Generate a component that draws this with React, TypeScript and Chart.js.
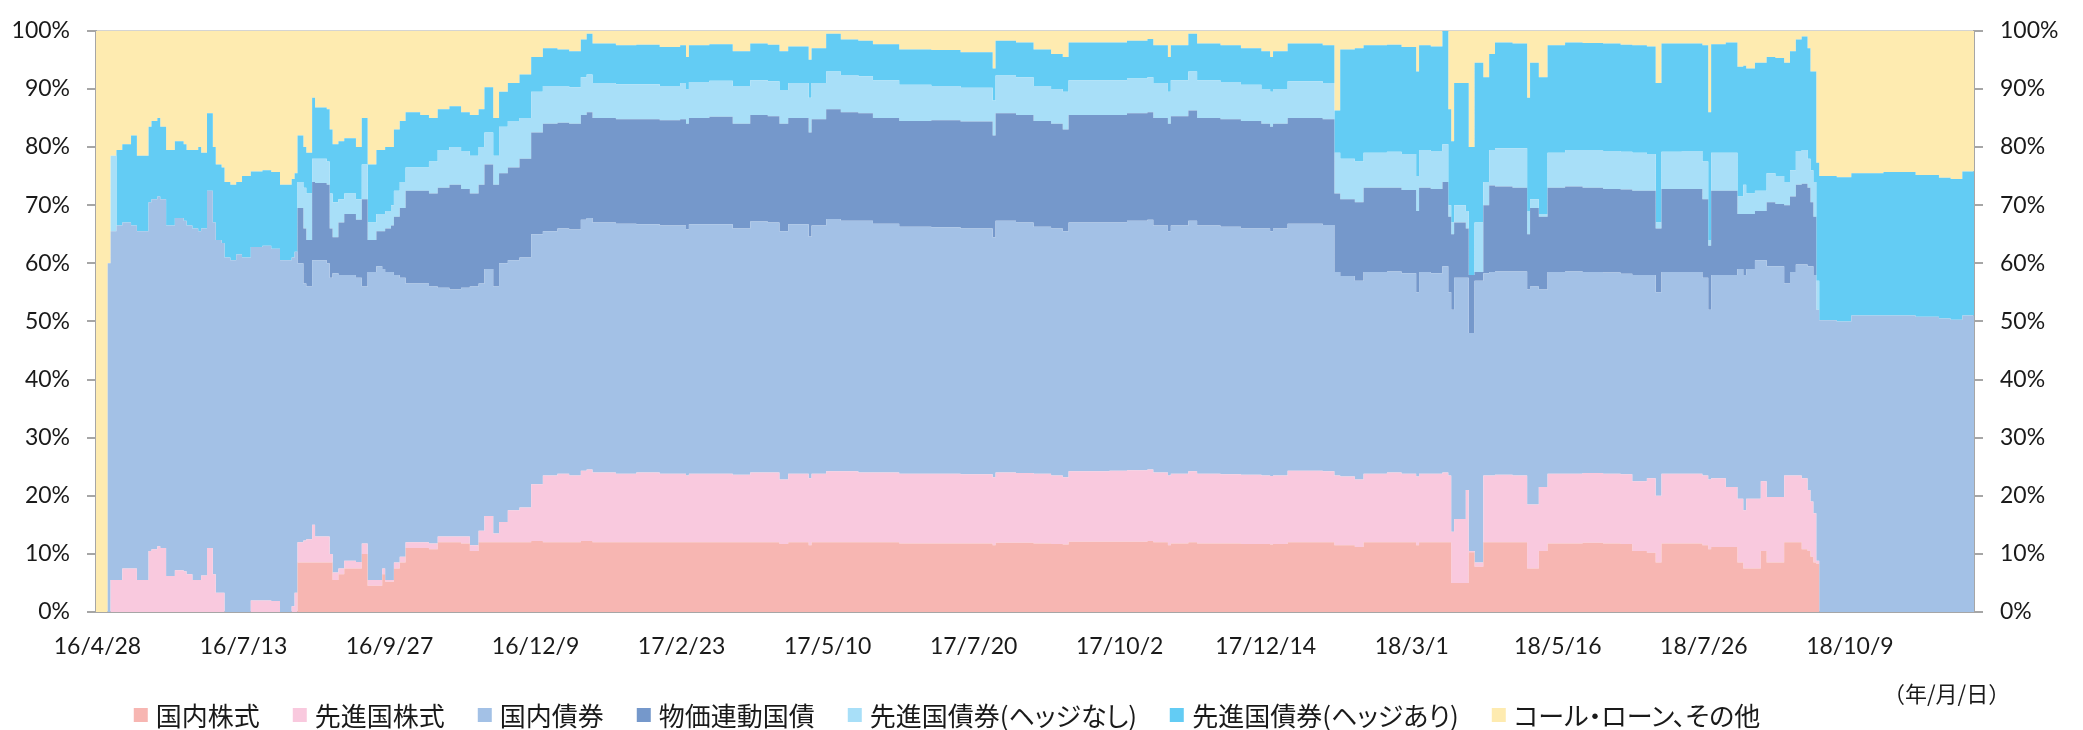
import React, { useEffect, useRef } from 'react';
import { Chart, registerables } from 'chart.js';

Chart.register(...registerables);

// ---- series meta ----
const seriesNames = [
  '国内株式',
  '先進国株式',
  '国内債券',
  '物価連動国債',
  '先進国債券(ヘッジなし)',
  '先進国債券(ヘッジあり)',
  'コール・ローン、その他',
];
const seriesColors = ['#F7B6B2', '#F9C9DE', '#A3C1E6', '#7598CB', '#A8DFF8', '#63CCF4', '#FEEBB0'];

// ---- x axis (business-day index from 2016/4/28) ----
const totalDays = 643;
const tickIndex = [0, 50, 100, 150, 200, 250, 300, 350, 400, 450, 500, 550, 600];
const tickLabels = [
  '16/4/28', '16/7/13', '16/9/27', '16/12/9', '17/2/23', '17/5/10', '17/7/20',
  '17/10/2', '17/12/14', '18/3/1', '18/5/16', '18/7/26', '18/10/9',
];

// business-day index at which each reading starts (held until the next one)
const startDay = [
  0, 4, 5, 7, 9, 12, 14, 18, 19, 21, 22, 24, 27, 30, 31, 33, 35, 36, 38, 40,
  41, 43, 44, 46, 48, 50, 53, 57, 60, 63, 67, 68, 69, 71, 72, 74, 75, 79, 80, 81,
  83, 85, 89, 91, 93, 96, 98, 99, 101, 102, 104, 106, 111, 114, 117, 121, 125, 128, 131, 133,
  136, 138, 141, 145, 149, 153, 158, 162, 166, 168, 170, 178, 185, 193, 200, 202, 203, 210, 218, 224,
  230, 234, 237, 244, 245, 250, 255, 261, 266, 275, 286, 296, 307, 308, 315, 321, 327, 331, 333, 347,
  353, 360, 362, 367, 368, 374, 377, 385, 392, 399, 402, 403, 408, 420, 424, 426, 431, 434, 442, 447,
  452, 453, 457, 461, 463, 464, 465, 469, 470, 472, 475, 477, 479, 485, 490, 491, 494, 497, 503, 509,
  516, 522, 526, 531, 534, 536, 543, 550, 552, 553, 558, 562, 564, 565, 568, 570, 572, 575, 578, 580,
  582, 584, 586, 587, 588, 589, 590, 596, 601, 612, 623, 631, 635, 639, 643,
];

// ---- series values (%) ----
const domesticEquity = [
  0, 0, 0, 0, 0, 0, 0, 0, 0, 0, 0, 0, 0, 0, 0, 0, 0, 0, 0, 0,
  0, 0, 0, 0, 0, 0, 0, 0, 0, 0, 0, 0, 8.5, 8.5, 8.5, 8.5, 8.5, 8.5, 8.5, 5.5,
  6.5, 7.5, 7.5, 10, 4.5, 4.5, 6.5, 5.2, 5.2, 7.5, 8.5, 11, 11, 10.8, 12, 12, 11.8, 10.5, 12, 12,
  12, 12, 12, 12, 12.2, 12, 12, 12, 12.2, 12.2, 12, 12, 12, 12, 12, 12, 12, 12, 12, 12,
  12, 11.7, 12, 11.5, 12, 12, 12, 12, 12, 11.8, 11.8, 11.8, 11.5, 11.9, 11.9, 11.8, 11.7, 11.6, 12.1, 12.1,
  12.1, 12.2, 12, 11.5, 11.8, 12, 11.8, 11.8, 11.7, 11.7, 11.6, 11.7, 12, 12, 11.5, 11.5, 11.2, 12, 12, 12,
  11.5, 12, 12, 12, 12, 5, 5, 5, 10.3, 7.8, 12, 12, 12, 12, 7.5, 7.5, 10.5, 11.8, 11.8, 11.9,
  11.8, 11.7, 10.5, 10.2, 8.5, 11.8, 11.8, 11.5, 10.8, 11.2, 11.2, 8.5, 7.5, 7.5, 7.5, 10.5, 8.5, 8.5, 12, 12,
  12, 10.8, 10.5, 9.5, 8.5, 8.3, 0, 0, 0, 0, 0, 0, 0, 0, 0,
];
const foreignEquity = [
  0, 0, 5.5, 5.5, 7.5, 7.5, 5.5, 10.5, 10.8, 11.3, 11, 6.2, 7.2, 7, 6.5, 5.5, 5.5, 6.3, 11, 6.5,
  3.3, 3.3, 0, 0, 0, 0, 2, 2, 1.9, 0, 1, 3.3, 3.5, 3.8, 4, 6.5, 4.5, 4.5, 1.5, 1.3,
  1, 1.3, 1.1, 1.8, 1, 1, 1, 0.3, 0.3, 1, 1, 1, 1, 1, 1, 1, 1.2, 1, 2, 4.5,
  1.5, 3.5, 5.5, 6, 9.8, 11.5, 11.8, 11.5, 12.1, 12.3, 12, 11.8, 12, 11.8, 11.8, 11.5, 11.8, 11.8, 11.6, 12,
  12, 11.1, 11.8, 11.5, 11.8, 12.2, 12.2, 12, 12, 12, 12, 11.9, 11.7, 12.1, 12, 12, 11.8, 11.6, 12.1, 12.2,
  12.3, 12.3, 12, 12, 12, 12.2, 12, 11.9, 11.9, 11.8, 11.8, 11.8, 12.3, 12.2, 12, 11.8, 11.6, 11.8, 12, 11.8,
  11.8, 11.8, 11.8, 12, 11.5, 8.8, 11, 16, 0.2, 0.7, 11.5, 11.5, 11.6, 11.5, 11, 11, 11, 12, 12, 12,
  12, 12, 12, 12.8, 11.5, 12, 12, 12, 12, 11.8, 10.3, 11, 10, 12, 12, 12, 11.3, 11.3, 11.5, 11.5,
  11.5, 12.2, 10.5, 9.5, 8.5, 0.5, 0, 0, 0, 0, 0, 0, 0, 0, 0,
];
const domesticBonds = [
  0, 60, 60, 61, 59.5, 59, 60, 60, 60.2, 60.2, 60, 60.3, 60.6, 60.3, 60, 60.5, 60, 59.7, 61.5, 60.5,
  60.7, 60.2, 61, 60.5, 61.5, 61, 60.8, 61, 60.6, 60.5, 60, 58.7, 48, 44.2, 43.5, 45.5, 47.5, 47, 47.5, 51.5,
  50.5, 49.2, 48.9, 44.2, 53, 54, 51.5, 53, 53, 49.5, 48, 44.5, 44.5, 44.2, 42.8, 42.5, 42.8, 44.5, 42.5, 42.5,
  42.5, 44.5, 43, 43, 43, 42, 42.2, 42.3, 43.2, 43.3, 43, 43, 42.7, 42.7, 42.7, 42.3, 42.9, 42.9, 42.4, 43.2,
  43, 42.7, 42.9, 41.6, 42.7, 43.4, 43.1, 43.3, 42.8, 42.5, 42.4, 42.3, 41.3, 43.3, 43.1, 42.5, 42.5, 42.3, 42.8, 42.7,
  42.9, 43, 42.5, 42, 42.7, 43.1, 42.7, 42.6, 42.4, 42.5, 42.1, 42.5, 42.5, 42.4, 35, 34.5, 34.2, 34.7, 34.6, 34.5,
  31.7, 34.7, 34.5, 35.5, 31.5, 38.2, 41.5, 36.5, 37.5, 48.5, 34.8, 35, 35, 35.1, 37, 37.5, 34, 34.7, 34.8, 34.6,
  34.6, 34.5, 35.5, 35, 35, 34.7, 34.7, 34, 29.2, 35, 36.5, 39.5, 40.5, 39.5, 41, 38, 39.7, 39.7, 33, 35,
  36.3, 36.8, 38.5, 40.5, 41, 43.2, 50.2, 50, 51, 51, 50.8, 50.5, 50.3, 51, 51,
];
const inflationLinkedJGB = [
  0, 0, 0, 0, 0, 0, 0, 0, 0, 0, 0, 0, 0, 0, 0, 0, 0, 0, 0, 0,
  0, 0, 0, 0, 0, 0, 0, 0, 0, 0, 0, 0, 9.5, 9.5, 8, 13.5, 13.3, 13.5, 8.5, 6.2,
  9, 10.5, 10, 15, 5.5, 6, 6.5, 7.5, 8, 10, 12, 16, 16, 16, 17.2, 18, 17, 16, 17, 18,
  17.5, 15.5, 16, 17, 17.5, 18.5, 18.2, 18.2, 18, 18.2, 18, 18, 18.1, 18.1, 18.3, 18.2, 18.3, 18.5, 18, 18.3,
  18.3, 18.5, 18.3, 17.9, 18.3, 18.9, 18.7, 18.5, 18.2, 18.2, 18.4, 18.4, 17.5, 18.5, 18.5, 18.2, 18, 17.5, 18.5, 18.5,
  18.5, 18.5, 18.5, 18.5, 18.8, 19, 18.5, 18.5, 18.5, 18, 18, 18, 18.2, 18.2, 13.5, 13.2, 13.5, 14.5, 14.4, 14.3,
  14, 14.5, 14.5, 14.5, 13, 13, 9.5, 8.5, 10, 1.5, 11.7, 14.9, 14.6, 14.4, 9.5, 13.5, 12.5, 14.5, 14.6, 14.5,
  14.4, 14.5, 14.5, 14.5, 11, 14.3, 14.3, 13.5, 11, 14.5, 14.5, 9.5, 10.5, 9.5, 8.5, 8.5, 11, 10.7, 13.5, 13,
  13.7, 13.9, 13.5, 11, 10, 0, 0, 0, 0, 0, 0, 0, 0, 0, 0,
];
const foreignBondsUnhedged = [
  0, 0, 13, 0, 0, 0, 0, 0, 0, 0, 0, 0, 0, 0, 0, 0, 0, 0, 0, 0,
  0, 0, 0, 0, 0, 0, 0, 0, 0, 0, 0, 0, 4.5, 7, 8, 4, 4.2, 4, 6, 6,
  4, 3.5, 3.5, 6, 3, 3, 3, 3, 3.5, 4.5, 4.5, 4, 4, 5.5, 6.5, 6.5, 6.5, 6.5, 6.5, 5.5,
  5, 8, 8, 7, 7, 6.5, 6.3, 6.3, 6.5, 6.5, 6, 6, 6, 5.9, 6.2, 6, 6.2, 6.2, 6.5, 6,
  6, 5.8, 6, 6, 6.2, 6.5, 6.4, 6.4, 6.5, 6.2, 5.9, 5.8, 6, 6.5, 6.5, 6, 6, 6.5, 6, 6,
  6, 6, 6, 5.5, 6.2, 6.7, 6.5, 6.4, 6.2, 6, 6, 6, 6.3, 6.2, 7, 7, 7, 6, 6.2, 6.2,
  6, 6.5, 6.5, 6.5, 2, 2, 3, 3, 0, 8.5, 4, 6.1, 6.6, 6.8, 4, 1.5, 0.5, 6, 6.3, 6.5,
  6.5, 6.5, 6.5, 6.3, 1, 6.4, 6.5, 6.5, 1, 6.5, 6.5, 3, 5, 3.5, 3.5, 3.5, 5, 4.8, 4, 4.5,
  5.8, 5.8, 5, 5.5, 6, 5, 0, 0, 0, 0, 0, 0, 0, 0, 0,
];
const foreignBondsHedged = [
  0, 0, 0, 13, 13.5, 15.5, 13, 13, 13.5, 13.5, 12.5, 13, 13.2, 13.2, 13, 13.5, 14.5, 13, 13.3, 13,
  13, 13, 13, 13, 12.5, 14, 13, 13, 13.2, 13, 13.5, 13.5, 8, 7, 7, 10.5, 8.8, 9, 11, 10,
  10, 9.5, 9, 8, 10, 11, 11, 11, 10, 10.5, 10.5, 9.5, 9, 7.5, 7, 7, 6.7, 7, 6.5, 7.8,
  6.5, 6, 6.5, 7.5, 6, 6.5, 6.3, 6.2, 6.5, 7, 6.8, 6.7, 6.8, 6.7, 6.5, 5.5, 6.3, 6.3, 6, 6.3,
  6.3, 6.7, 6.3, 6.5, 6, 6.5, 6.1, 6.1, 6.2, 6.1, 6.2, 6.1, 5.5, 6, 6, 6.3, 6, 6, 6.5, 6.5,
  6.5, 6.6, 6.5, 6, 6, 6.5, 6.3, 6.3, 6.3, 6.5, 6, 6.5, 6.5, 6.5, 7.3, 18.8, 19.5, 18.5, 18.4, 18.4,
  18, 18, 18, 19.5, 16.5, 14, 21, 22, 22, 27.5, 18, 16.5, 18.2, 18, 19.5, 23.5, 23.5, 18.5, 18.5, 18.4,
  18.5, 18.4, 18.5, 18.5, 24, 18.6, 18.5, 20, 22, 18.7, 19, 22.3, 20.5, 21.5, 22, 22, 20, 20.3, 20.5, 20.5,
  19.2, 19.5, 19, 17, 19, 20.3, 24.8, 24.8, 24.5, 24.7, 24.4, 24.2, 24.2, 24.8, 24.8,
];
const callLoanOther = [
  100, 40, 21.5, 20.5, 19.5, 18, 21.5, 16.5, 15.5, 15, 16.5, 20.5, 19, 19.5, 20.5, 20.5, 20, 21, 14.2, 20,
  23, 23.5, 26, 26.5, 26, 25, 24.2, 24, 24.3, 26.5, 25.5, 24.5, 18, 20, 21, 11.5, 13.2, 13.5, 17, 19.5,
  19, 18.5, 20, 15, 23, 20.5, 20.5, 20, 20, 17, 15.5, 14, 14.5, 15, 13.5, 13, 14, 14.5, 13.5, 9.7,
  15, 10.5, 9, 7.5, 4.5, 3, 3.2, 3.5, 1.5, 0.5, 2.2, 2.5, 2.4, 2.8, 2.5, 4.5, 2.5, 2.3, 3.5, 2.2,
  2.4, 3.5, 2.7, 5, 3, 0.5, 1.5, 1.7, 2.3, 3.2, 3.3, 3.7, 6.5, 1.7, 2, 3.2, 4, 4.5, 2, 2,
  1.7, 1.4, 2.5, 4.5, 2.5, 0.5, 2.2, 2.5, 3, 3.5, 4.5, 3.5, 2.2, 2.5, 13.7, 3.2, 3, 2.5, 2.4, 2.8,
  7, 2.5, 2.7, 0, 13.5, 19, 9, 9, 20, 5.5, 8, 4, 2, 2.2, 11.5, 5.5, 8, 2.5, 2, 2.1,
  2.2, 2.4, 2.5, 2.7, 9, 2.2, 2.2, 2.5, 14, 2.3, 2, 6.2, 6, 6.5, 5.5, 5.5, 4.5, 4.7, 5.5, 3.5,
  1.5, 1, 3, 7, 7, 22.7, 25, 25.2, 24.5, 24.3, 24.8, 25.3, 25.5, 24.2, 24.2,
];

const seriesValues = [
  domesticEquity,
  foreignEquity,
  domesticBonds,
  inflationLinkedJGB,
  foreignBondsUnhedged,
  foreignBondsHedged,
  callLoanOther,
];

const W = 2083;
const H = 730;
const tickFont = { family: 'Lato, "Liberation Sans", sans-serif', size: 23 };
const axisGray = '#A6A6A6';

export default function App() {
  const canvasRef = useRef<HTMLCanvasElement | null>(null);

  useEffect(() => {
    const canvas = canvasRef.current;
    if (!canvas) return;
    const datasets = seriesValues.map((vals, k) => ({
      label: seriesNames[k],
      data: startDay.map((d, i) => ({ x: d, y: vals[i] })),
      backgroundColor: seriesColors[k],
      borderColor: seriesColors[k],
      borderWidth: 0,
      pointRadius: 0,
      pointHoverRadius: 0,
      stepped: true,
      tension: 0,
      fill: k === 0 ? 'origin' : '-1',
      yAxisID: 'y',
    }));

    const chart = new Chart(canvas, {
      type: 'line',
      data: { datasets: datasets as any },
      options: {
        animation: false,
        responsive: false,
        events: [],
        layout: { padding: { top: 23, left: 0, right: 0, bottom: 0 } },
        plugins: {
          legend: { display: false },
          tooltip: { enabled: false },
          title: { display: false },
        },
        scales: {
          x: {
            type: 'linear',
            min: 0,
            max: totalDays,
            z: 1,
            afterBuildTicks: (scale: any) => {
              scale.ticks = tickIndex.map((v) => ({ value: v + 0.5 }));
            },
            afterFit: (scale: any) => {
              scale.height = 118;
            },
            ticks: {
              autoSkip: false,
              maxRotation: 0,
              minRotation: 0,
              padding: 21,
              color: '#1A1A1A',
              font: tickFont,
              callback: (_v: any, i: number) => tickLabels[i],
            },
            grid: { display: false, drawTicks: false },
            border: { display: true, color: axisGray, width: 2 },
          },
          y: {
            type: 'linear',
            stacked: true,
            position: 'left',
            min: 0,
            max: 100,
            z: 1,
            afterFit: (scale: any) => {
              scale.width = 96;
            },
            ticks: {
              stepSize: 10,
              padding: 17,
              color: '#1A1A1A',
              font: tickFont,
              callback: (v: any) => `${v}%`,
            },
            grid: {
              drawOnChartArea: true,
              drawTicks: true,
              tickLength: 9,
              lineWidth: 2,
              tickColor: axisGray,
              color: (ctx: any) => (ctx.tick && ctx.tick.value === 100 ? '#D4D4D4' : 'rgba(0,0,0,0)'),
            },
            border: { display: true, color: axisGray, width: 2 },
          },
          y2: {
            type: 'linear',
            position: 'right',
            min: 0,
            max: 100,
            z: 1,
            afterFit: (scale: any) => {
              scale.width = W - 1974;
            },
            ticks: {
              stepSize: 10,
              padding: 17,
              color: '#1A1A1A',
              font: tickFont,
              callback: (v: any) => `${v}%`,
            },
            grid: {
              drawOnChartArea: false,
              drawTicks: true,
              tickLength: 9,
              lineWidth: 2,
              tickColor: axisGray,
            },
            border: { display: true, color: axisGray, width: 2 },
          },
        },
      } as any,
    });
    return () => chart.destroy();
  }, []);

  return (
    <div style={{ position: 'fixed', left: 0, top: 0, width: W, height: H, background: '#fff' }}>
      <canvas ref={canvasRef} width={W} height={H} style={{ width: W, height: H, display: 'block' }} />
      <div
        style={{
          position: 'absolute',
          left: 1883,
          top: 678,
          height: 28,
          lineHeight: '28px',
          fontFamily: '"Noto Sans CJK JP", sans-serif',
          fontSize: 22,
          color: '#1A1A1A',
          whiteSpace: 'nowrap',
        }}
      >
        （年/月/日）
      </div>
      <div
        style={{
          position: 'absolute',
          left: 947,
          top: 700,
          height: 30,
          transform: 'translateX(-50%)',
          display: 'flex',
          alignItems: 'center',
          gap: 33,
          fontFamily: '"Noto Sans CJK JP", sans-serif',
          fontSize: 26,
          lineHeight: '30px',
          fontFeatureSettings: '"palt"',
          color: '#1A1A1A',
          whiteSpace: 'nowrap',
        }}
      >
        {seriesNames.map((name, k) => (
          <div key={name} style={{ display: 'flex', alignItems: 'center' }}>
            <span
              style={{
                display: 'inline-block',
                width: 14,
                height: 14,
                background: seriesColors[k],
                marginRight: 8,
              }}
            />
            <span>{name}</span>
          </div>
        ))}
      </div>
    </div>
  );
}
